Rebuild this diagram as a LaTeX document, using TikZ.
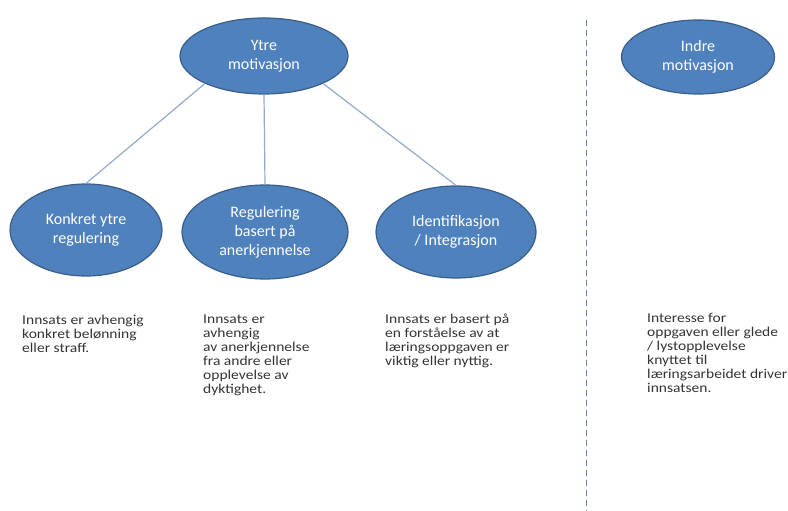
\documentclass[tikz,border=0pt]{standalone}
\usepackage{fontspec}
\setmainfont{Carlito}
\newfontfamily\brodfont[FakeStretch=1.15]{Carlito}
\usetikzlibrary{shapes.geometric}
\definecolor{ellipseblaa}{HTML}{4F81BD}
\definecolor{ellipsekant}{HTML}{385D8A}
\definecolor{linjefarge}{HTML}{94AACB}
\definecolor{skillefarge}{HTML}{6684AE}
\definecolor{tekstfarge}{HTML}{333333}

\begin{document}
\begin{tikzpicture}[x=1bp, y=-1bp,
    motiv/.style={ellipse, draw=ellipsekant, line width=1.2bp, fill=ellipseblaa, text=white, align=center, inner sep=0pt, font=\fontsize{16bp}{19bp}\selectfont},
    forklaring/.style={anchor=north west, align=left, inner sep=0pt, text=tekstfarge, font=\brodfont\fontsize{13.5bp}{14bp}\selectfont},
    kobling/.style={draw=linjefarge, line width=1.2bp}]
    \useasboundingbox (0, 0) rectangle (788, 511);

    % ellipser
    \node[motiv, minimum width=168bp, minimum height=76bp] (ytre) at (264, 56) {Ytre\\motivasjon};
    \node[motiv, minimum width=152bp, minimum height=92bp] (konkret) at (86, 230) {Konkret ytre\\regulering};
    \node[motiv, minimum width=166bp, minimum height=94bp] (regulering) at (265, 232) {Regulering\\basert på\\anerkjennelse};
    \node[motiv, minimum width=160bp, minimum height=92bp] (identifikasjon) at (456, 232) {Identifikasjon\\/ Integrasjon};
    \node[motiv, minimum width=153bp, minimum height=74bp] (indre) at (698, 57) {Indre\\motivasjon};

    % forklaringer
    \node[forklaring] (tekstKonkret) at (22, 315) {Innsats er avhengig\\konkret belønning\\eller straff.};
    \node[forklaring] (tekstRegulering) at (203, 315) {Innsats er\\avhengig\\av anerkjennelse\\fra andre eller\\opplevelse av\\dyktighet.};
    \node[forklaring] (tekstIdentifikasjon) at (385, 314) {Innsats er basert på\\en forståelse av at\\læringsoppgaven er\\viktig eller nyttig.};
    \node[forklaring] (tekstIndre) at (647, 313) {Interesse for\\oppgaven eller glede\\/ lystopplevelse\\knyttet til\\læringsarbeidet driver\\innsatsen.};

    \draw[kobling] (ytre.205) -- (konkret.north);
    \draw[kobling] (ytre.south) -- (regulering.north);
    \draw[kobling] (ytre.335) -- (identifikasjon.north);

    % skillelinje
    \coordinate (skilleTopp) at (586, 20);
    \coordinate (skilleBunn) at (586, 511);
    \draw[skillefarge, dashed, dash pattern=on 6bp off 4bp, line width=1bp] (skilleTopp) -- (skilleBunn);
\end{tikzpicture}
\end{document}
